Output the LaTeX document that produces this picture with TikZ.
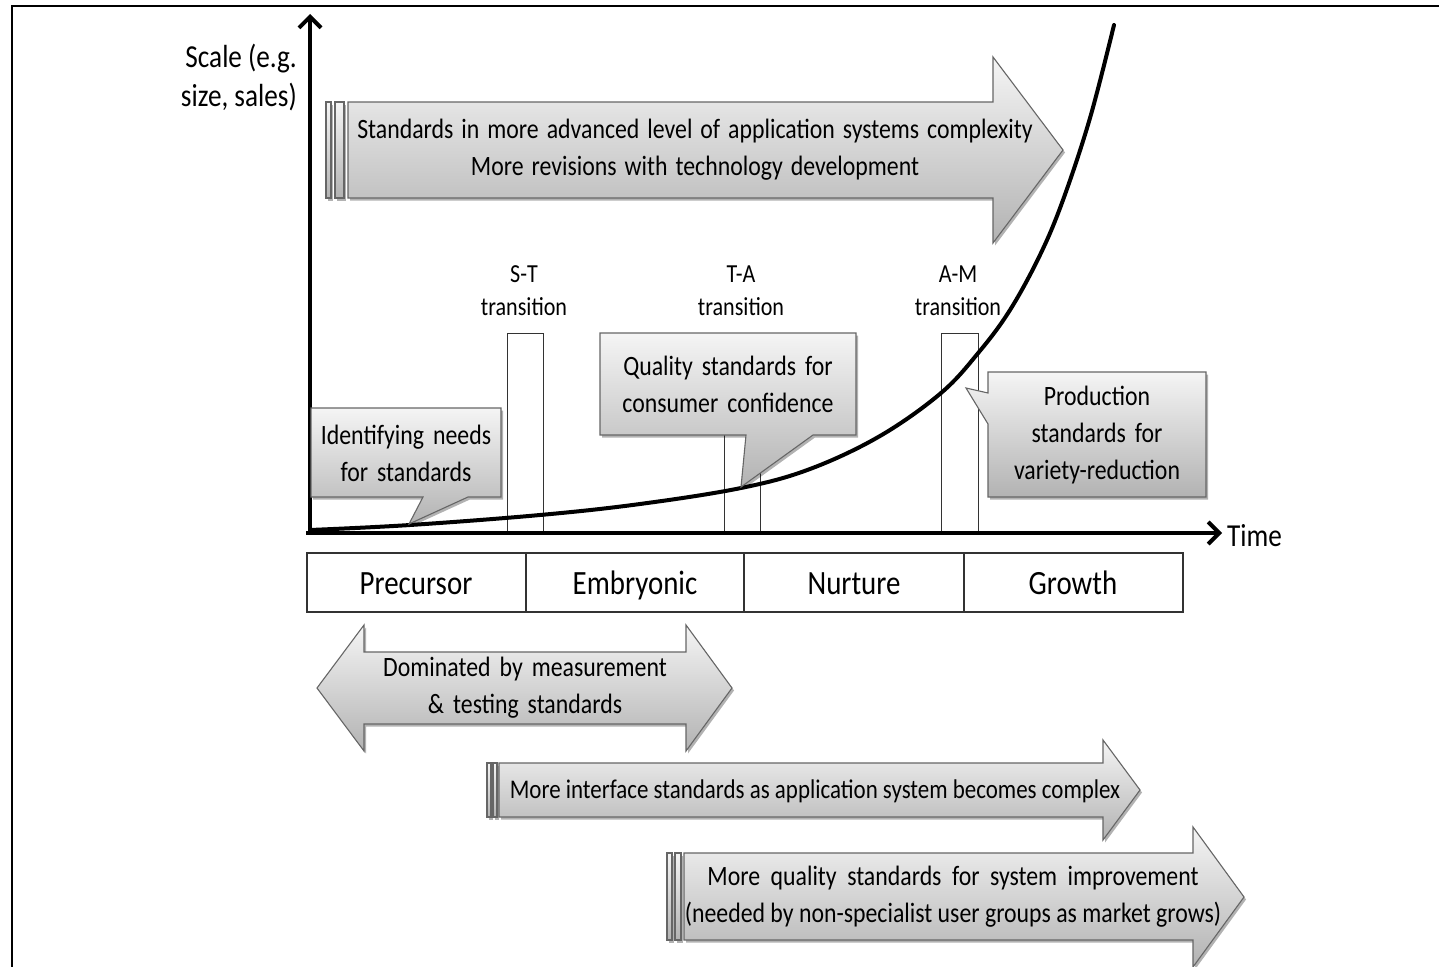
\documentclass[tikz,border=0pt]{standalone}
\usepackage{fontspec}
\setmainfont{Carlito}[FakeStretch=0.85]
\usetikzlibrary{arrows.meta,shadows}
\newcommand{\wsp}{\spaceskip=9pt plus 2pt minus 1pt\relax}
\newcommand{\wspa}{\spaceskip=8pt plus 1pt minus 1pt\relax}
\newcommand{\wspb}{\spaceskip=10.5pt plus 1pt minus 1pt\relax}
\begin{document}
\begin{tikzpicture}[x=1pt,y=-1pt,
  shp/.style={draw=black!60, line width=1.1pt, top color=black!4, bottom color=black!30,
    drop shadow={shadow xshift=2pt,shadow yshift=-2.5pt,opacity=0.3,fill=black}},
  txt/.style={align=center, inner sep=0pt, font=\fontsize{28}{37}\selectfont},
  widetxt/.style={align=center, inner sep=0pt, font=\fontsize{28}{37}\selectfont\wsp},
  smalltxt/.style={align=center, inner sep=0pt, font=\fontsize{26}{33}\selectfont},
  phasetxt/.style={inner sep=0pt, anchor=base, font=\fontsize{34}{38}\selectfont},
  thinbox/.style={draw=black!80, line width=1pt},
  axis/.style={line width=4pt, -{Straight Barb[length=11pt,width=22pt]}}
]
\useasboundingbox (0,0) rectangle (1439,966);
% frame
\draw[line width=2.5pt] (12,970) -- (12,6) -- (1445,6);

% transition boxes
\draw[thinbox] (507,333) rectangle (543,531);
\draw[thinbox] (724,333) rectangle (760,531);
\draw[thinbox] (941,333) rectangle (978,531);

% growth curve
\draw[line width=4pt, line cap=round] plot[smooth, tension=0.6] coordinates {
  (310,530) (410,525) (540,515) (640,504) (741,488) (810,469) (880,436)
  (941,393) (979,352) (1010,310) (1040,255) (1063,200) (1090,118) (1114,25)};

% axes
\coordinate (O) at (310,533);
\coordinate (ytip) at (310,14);
\coordinate (xo) at (306,533);
\coordinate (xtip) at (1222,533);
\draw[axis] (O) -- (ytip);
\draw[axis] (xo) -- (xtip);
\node[inner sep=0pt, anchor=base west, font=\fontsize{32}{36}\selectfont] (time) at (1227,546) {Time};
\node[inner sep=0pt, anchor=east, align=right, font=\fontsize{32}{39}\selectfont] (scale) at (297,78) {Scale (e.g.\\size, sales)};

% transition labels
\node[smalltxt] (stl) at (524,291) {S-T\\transition};
\node[smalltxt] (tal) at (741,291) {T-A\\transition};
\node[smalltxt] (aml) at (958,291) {A-M\\transition};

% top big arrow
\draw[shp] (326,102) rectangle (331,198);
\draw[shp] (335,102) rectangle (344,198);
\draw[shp] (348,102) -- (993,102) -- (993,57) -- (1063,150) -- (993,243) -- (993,198) -- (348,198) -- cycle;
\node[align=center, inner sep=0pt, font=\fontsize{28}{37}\selectfont\wspa] (adv) at (695,150) {Standards in more advanced level of application systems complexity\\More revisions with technology development};

% callouts
\draw[shp] (311,408) -- (501,408) -- (501,497) -- (468,497) -- (409,524) -- (423,497) -- (311,497) -- cycle;
\node[widetxt] (ident) at (406,453) {Identifying needs\\for standards};
\draw[shp] (600,333) -- (856,333) -- (856,435) -- (813,435) -- (741,487) -- (746,435) -- (600,435) -- cycle;
\node[widetxt] (qual) at (728,384) {Quality standards for\\consumer confidence};
\draw[shp] (988,372) -- (1206,372) -- (1206,497) -- (988,497) -- (988,424) -- (966,388) -- (988,393) -- cycle;
\node[widetxt] (prod) at (1097,435) {Production\\standards for\\variety-reduction};

% phase table
\draw[thinbox, line width=1.2pt] (307,553) rectangle (1183,612);
\draw[thinbox, line width=1.2pt] (526,553) -- (526,612);
\draw[thinbox, line width=1.2pt] (744,553) -- (744,612);
\draw[thinbox, line width=1.2pt] (964,553) -- (964,612);
\node[phasetxt] (pre) at (416,594) {Precursor};
\node[phasetxt] (emb) at (635,594) {Embryonic};
\node[phasetxt] (nur) at (854,594) {Nurture};
\node[phasetxt] (gro) at (1073,594) {Growth};

% double arrow
\draw[shp] (317,688) -- (364,625) -- (364,652) -- (686,652) -- (686,625) -- (732,688) -- (686,751) -- (686,724) -- (364,724) -- (364,751) -- cycle;
\node[widetxt] (dom) at (525,688) {Dominated by measurement\\\&{} testing standards};

% interface arrow
\draw[shp] (487,763) rectangle (491,817);
\draw[shp] (493,763) rectangle (497,817);
\draw[shp] (499,763) -- (1103,763) -- (1103,740) -- (1140,790) -- (1103,840) -- (1103,817) -- (499,817) -- cycle;
\node[align=center, inner sep=0pt, font=\fontsize{27}{37}\selectfont] (intf) at (815,791) {More interface standards as application system becomes complex};

% quality improvement arrow
\draw[shp] (667,853) rectangle (672,940);
\draw[shp] (675,853) rectangle (681,940);
\draw[shp] (684,853) -- (1193,853) -- (1193,827) -- (1244,897) -- (1193,967) -- (1193,940) -- (684,940) -- cycle;
\node[txt] (qimp) at (953,897) {{\wspb More quality standards for system improvement}\\(needed by non-specialist user groups as market grows)};
\end{tikzpicture}
\end{document}
